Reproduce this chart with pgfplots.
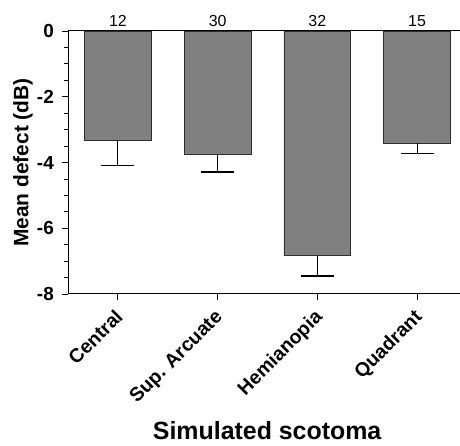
\documentclass[border=0pt]{standalone}
\usepackage{fontspec}
\setmainfont{Liberation Sans}
\usepackage{pgfplots}
\pgfplotsset{compat=1.18}
\definecolor{barfill}{RGB}{128,128,128}
\definecolor{baredge}{RGB}{45,45,45}

\begin{document}
\begin{tikzpicture}
\begin{axis}[
  scale only axis,
  width=392bp, height=263bp,
  xmin=-0.5, xmax=3.43,
  ymin=-8, ymax=0,
  axis x line*=bottom,
  axis y line*=left,
  axis line style={line width=1pt, -},
  tick align=outside,
  tick style={line width=0.8pt, black},
  major tick length=6bp,
  minor tick length=4bp,
  xtick={0,1,2,3},
  xticklabels={Central, Sup. Arcuate, Hemianopia, Quadrant},
  xticklabel style={xshift=-4bp, yshift=-8bp, rotate=45, anchor=north east, inner sep=0pt,
    font=\bfseries\fontsize{19.5}{21}\selectfont},
  ytick={-8,-6,-4,-2,0},
  minor ytick={-7.5,-7,-6.5,-5.5,-5,-4.5,-3.5,-3,-2.5,-1.5,-1,-0.5},
  yticklabel style={font=\bfseries\fontsize{19}{21}\selectfont,
    /pgf/number format/assume math mode=true, inner sep=0pt, xshift=-8bp},
  ylabel={Mean defect (dB)},
  ylabel style={at={(rel axis cs:-0.1148,0.5)}, anchor=center,
    font=\bfseries\fontsize{21}{23}\selectfont},
  xlabel={Simulated scotoma},
  xlabel style={at={(rel axis cs:0.508,-0.521)}, anchor=center,
    font=\bfseries\fontsize{25}{27}\selectfont},
  clip=false,
]
\addplot[ybar, bar width=0.67, fill=barfill, draw=baredge, line width=0.9pt,
  error bars/.cd, y dir=minus, y explicit,
  error bar style={line width=0.8pt, black},
  error mark options={rotate=90, line width=1.4pt, black, mark size=16.5bp}]
  coordinates {
    (0,-3.33) -= (0,0.76)
    (1,-3.77) -= (0,0.52)
    (2,-6.84) -= (0,0.61)
    (3,-3.42) -= (0,0.30)
  };
\addplot[draw=none, mark=none, nodes near coords, point meta=explicit symbolic,
  nodes near coords style={anchor=south, font=\fontsize{16}{18}\selectfont, yshift=1bp}]
  coordinates {
    (0,0) [12]
    (1,0) [30]
    (2,0) [32]
    (3,0) [15]
  };
\draw[line width=1pt] (rel axis cs:0,1) -- (rel axis cs:1,1);
\coordinate (BL) at (rel axis cs:0,0);
\coordinate (TR) at (rel axis cs:1,1);
\end{axis}
\path (BL) ++(-68bp,-152bp) coordinate (A);
\path (TR) ++(0,31bp) coordinate (B);
\pgfresetboundingbox
\path (A) rectangle (B);
\end{tikzpicture}
\end{document}
